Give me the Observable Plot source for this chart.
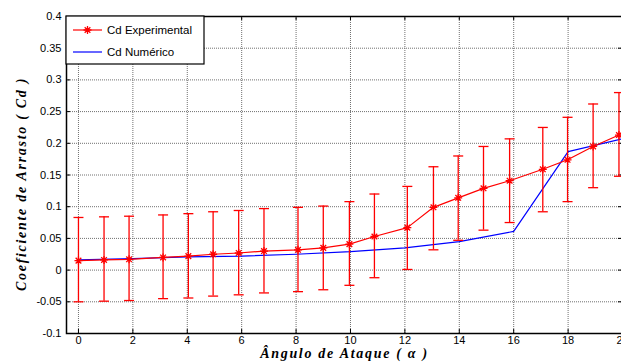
<!DOCTYPE html>
<html>
<head>
<meta charset="utf-8">
<script src="https://cdn.jsdelivr.net/npm/d3@7"></script>
<script src="https://cdn.jsdelivr.net/npm/@observablehq/plot@0.6"></script>
<style>
  html, body { margin: 0; padding: 0; background: #fff; overflow: hidden; width: 621px; height: 362px; }
  #chart { position: relative; width: 640px; }
</style>
</head>
<body>
<div id="chart"></div>
<script>
// ---- data ----
const angles = [0, 0.94, 1.86, 3.11, 4.04, 4.95, 5.89, 6.82, 8.07, 9.0, 9.96, 10.88, 12.09, 13.05, 13.96, 14.89, 15.85, 17.07, 17.98, 18.92, 19.87];
const cdExp  = [0.015, 0.016, 0.017, 0.020, 0.022, 0.025, 0.027, 0.030, 0.032, 0.035, 0.041, 0.053, 0.067, 0.099, 0.114, 0.129, 0.141, 0.159, 0.174, 0.195, 0.213];
const errHigh = [0.083, 0.084, 0.085, 0.087, 0.089, 0.092, 0.094, 0.097, 0.099, 0.101, 0.108, 0.120, 0.132, 0.163, 0.180, 0.195, 0.207, 0.225, 0.241, 0.262, 0.280];
const errLow  = [-0.050, -0.049, -0.048, -0.045, -0.044, -0.041, -0.039, -0.036, -0.034, -0.031, -0.024, -0.012, 0.001, 0.032, 0.047, 0.063, 0.075, 0.092, 0.108, 0.130, 0.148];
const numAngles = [0, 2, 4, 6, 8, 10, 12, 14, 16, 18, 20];
const cdNum     = [0.016, 0.018, 0.021, 0.022, 0.025, 0.029, 0.035, 0.045, 0.061, 0.187, 0.207];
const xTicks = [0, 2, 4, 6, 8, 10, 12, 14, 16, 18, 20];
const yTicks = [-0.1, -0.05, 0, 0.05, 0.1, 0.15, 0.2, 0.25, 0.3, 0.35, 0.4];
const seriesNames = ["Cd Experimental", "Cd Numérico"];
const xLabel = "Ângulo de Ataque ( α )";
const yLabel = "Coeficiente de Arrasto ( Cd )";

const expData = angles.map((a, i) => ({a, cd: cdExp[i], hi: errHigh[i], lo: errLow[i]}));
const numData = numAngles.map((a, i) => ({a, cd: cdNum[i]}));

// ---- symbols ----
const star = {
  draw(ctx, size) {
    const r = Math.sqrt(size / Math.PI);
    const d = r * Math.SQRT1_2;
    ctx.moveTo(-r, 0); ctx.lineTo(r, 0);
    ctx.moveTo(0, -r); ctx.lineTo(0, r);
    ctx.moveTo(-d, -d); ctx.lineTo(d, d);
    ctx.moveTo(-d, d); ctx.lineTo(d, -d);
  }
};
const cap = {
  draw(ctx, size) {
    const r = Math.sqrt(size / Math.PI);
    ctx.moveTo(-r, 0); ctx.lineTo(r, 0);
  }
};

const W = 640, H = 362, mL = 66, mR = 18, mT = 16, mB = 29;
const pw = W - mL - mR, ph = H - mT - mB;
const fmt = d => String(+d.toFixed(2));
const sans = "Liberation Sans, Arial, sans-serif";
const serif = "Liberation Serif, Times New Roman, serif";

const chart = Plot.plot({
  width: W, height: H,
  marginLeft: mL, marginRight: mR, marginTop: mT, marginBottom: mB,
  style: {fontFamily: sans, fontSize: "11px", background: "white", overflow: "visible"},
  x: {domain: [-0.44, 20]},
  y: {domain: [-0.1, 0.4]},
  marks: [
    Plot.gridX(xTicks, {stroke: "#707070", strokeOpacity: 1, strokeDasharray: "1,1"}),
    Plot.gridY(yTicks, {stroke: "#707070", strokeOpacity: 1, strokeDasharray: "1,1"}),
    Plot.tickX(xTicks, {x: d => d, insetTop: ph - 4, stroke: "black"}),
    Plot.tickX(xTicks, {x: d => d, insetBottom: ph - 4, stroke: "black"}),
    Plot.tickY(yTicks, {y: d => d, insetRight: pw - 4, stroke: "black"}),
    Plot.tickY(yTicks, {y: d => d, insetLeft: pw - 4, stroke: "black"}),
    Plot.axisX(xTicks, {tickSize: 0, tickPadding: 3, label: null, fontSize: 11, fontFamily: sans, fill: "black"}),
    Plot.axisY(yTicks, {tickSize: 0, tickPadding: 5, label: null, tickFormat: fmt, fontSize: 11, fontFamily: sans, fill: "black"}),
    Plot.line(numData, {x: "a", y: "cd", stroke: "#0000ff", strokeWidth: 1.2}),
    Plot.ruleX(expData, {x: "a", y1: "lo", y2: "hi", stroke: "#ff0000", strokeWidth: 1.3}),
    Plot.dot(expData, {x: "a", y: "hi", symbol: cap, r: 5, stroke: "#ff0000", strokeWidth: 1.3}),
    Plot.dot(expData, {x: "a", y: "lo", symbol: cap, r: 5, stroke: "#ff0000", strokeWidth: 1.3}),
    Plot.line(expData, {x: "a", y: "cd", stroke: "#ff0000", strokeWidth: 1.2}),
    Plot.dot(expData, {x: "a", y: "cd", symbol: star, r: 4, stroke: "#ff0000", strokeWidth: 1.3}),
    Plot.frame({stroke: "black", strokeWidth: 1.5}),
    Plot.text([xLabel], {frameAnchor: "bottom", dy: 24, textAnchor: "middle", text: d => d, fontFamily: serif, fontWeight: "bold", fontStyle: "italic", fontSize: 14, fill: "black"}),
    Plot.text([yLabel], {frameAnchor: "left", dx: -45, dy: 9, rotate: -90, textAnchor: "middle", text: d => d, fontFamily: serif, fontWeight: "bold", fontStyle: "italic", fontSize: 14, fill: "black"})
  ]
});
document.getElementById("chart").appendChild(chart);

// letter spacing on the axis titles (MATLAB-style spaced look)
d3.select(chart).selectAll("text").filter(function() { return this.textContent === xLabel || this.textContent === yLabel; })
  .attr("letter-spacing", "1.7px");

// ---- legend (inside plot, top-left) ----
const svg = d3.select(chart);
const lg = svg.append("g").attr("transform", `translate(${mL},${mT})`);
lg.append("rect").attr("x", 0).attr("y", 0).attr("width", 138).attr("height", 48)
  .attr("fill", "white").attr("stroke", "black").attr("stroke-width", 1.2);
const colors = ["#ff0000", "#0000ff"];
seriesNames.forEach((name, i) => {
  const y = 14 + i * 22;
  lg.append("line").attr("x1", 7).attr("x2", 36).attr("y1", y).attr("y2", y)
    .attr("stroke", colors[i]).attr("stroke-width", 1.2);
  if (i === 0) {
    lg.append("path").attr("transform", `translate(21.5,${y})`)
      .attr("d", d3.symbol(star, 16 * Math.PI)())
      .attr("stroke", colors[i]).attr("stroke-width", 1.3).attr("fill", "none");
  }
  lg.append("text").attr("x", 41).attr("y", y).attr("dy", "0.35em")
    .attr("text-anchor", "start")
    .attr("font-family", sans).attr("font-size", 11.5).attr("fill", "black").text(name);
});
</script>
</body>
</html>
